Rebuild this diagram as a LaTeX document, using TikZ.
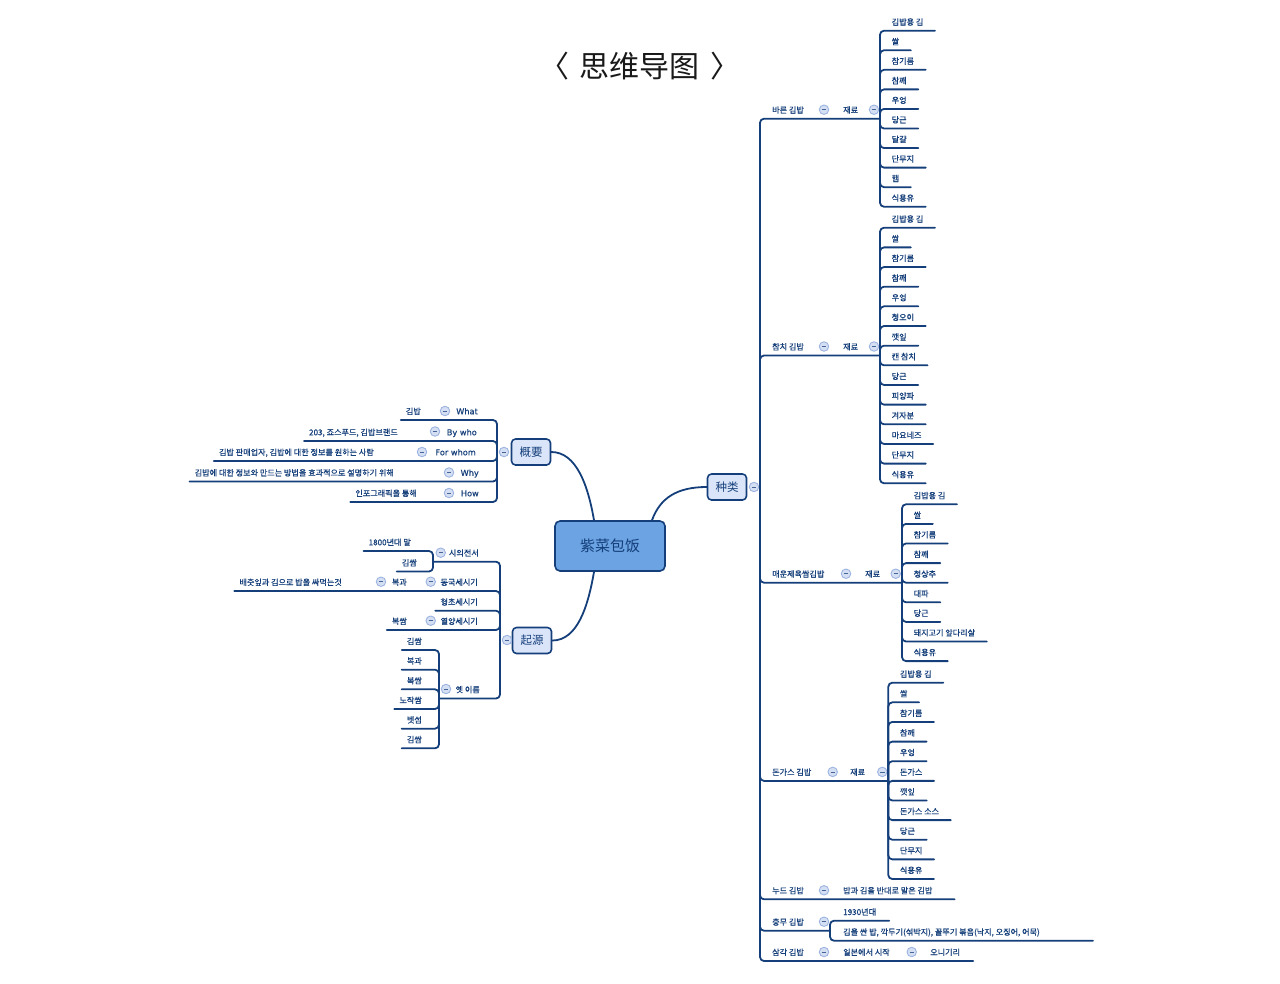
\documentclass[tikz,border=0pt]{standalone}
\usepackage{fontspec}
\newfontfamily\kr{Noto Sans CJK KR}[RawFeature={embolden=0.8}]
\newfontfamily\zh{Noto Sans CJK SC}
\newfontfamily\lat{DejaVu Sans}[RawFeature={embolden=0.6}]
\definecolor{navy}{HTML}{153F7A}
\definecolor{mainblue}{HTML}{6BA3E3}
\definecolor{subblue}{HTML}{DAE5FA}
\definecolor{togfill}{HTML}{D5DFF3}
\definecolor{togring}{HTML}{9DB4E0}
\tikzset{
  ln/.style={draw=navy, line width=1.8pt, rounded corners=4pt, line cap=round},
  lf/.style={font=\kr\fontsize{8.1}{9}\selectfont, text=navy, inner xsep=11.5pt, inner ysep=2pt, text height=7pt, text depth=3.5pt, anchor=south west},
  lfr/.style={lf, inner xsep=5pt},
  lfl/.style={lf, inner xsep=5pt, anchor=south east},
  en/.style={lfl, font=\lat\fontsize{8.2}{9}\selectfont},
  tog/.style={circle, draw=togring, fill=togfill, line width=0.9pt, minimum size=9.5pt, inner sep=0pt,
    path picture={\draw[navy!80, line width=0.7pt] ([xshift=-2.2pt]path picture bounding box.center) -- ([xshift=2.2pt]path picture bounding box.center);}},
  rootbox/.style={draw=navy, fill=mainblue, line width=1.6pt, rounded corners=5pt, minimum width=110pt, minimum height=50pt, font=\zh\fontsize{15}{18}\selectfont, text=navy},
  subbox/.style={draw=navy, fill=subblue, line width=1.6pt, rounded corners=4pt, minimum width=39pt, minimum height=26pt, inner sep=2pt, font=\zh\fontsize{11.5}{14}\selectfont, text=navy}
}
\begin{document}
\begin{tikzpicture}[x=1pt,y=-1pt,line join=round]
\useasboundingbox (0,0) rectangle (1280,983);
\node[font=\zh\fontsize{30}{34}\selectfont, text=black!90] (title) at (640,66) {〈\hspace{4pt} 思维导图 \hspace{4pt}〉};
% center and main branches
\node[rootbox] (root) at (610,546) {紫菜包饭};
\node[subbox] (gaiyao) at (531,452) {概要};
\node[subbox] (qiyuan) at (532,640.5) {起源};
\node[subbox] (zhonglei) at (727,487) {种类};
\draw[ln] (gaiyao.east) .. controls +(25,0) and +(-6,-35) .. ([xshift=-16pt]root.north);
\draw[ln] ([xshift=-16pt]root.south) .. controls +(-6,35) and +(25,0) .. (qiyuan.east);
\draw[ln] ([xshift=42pt]root.north) .. controls +(8,-22) and +(-30,0) .. (zhonglei.west);
\node[tog] (gt0) at (504,452) {}; \node[tog] (qt0) at (507,640) {}; \node[tog] (zt0) at (754,487) {};

% 概要
\coordinate (g0) at (497,461);
\node[en] (g1) at (483,420) {What}; \node[tog] (gt1) at (445,411) {}; \node[lfl] (ga1) at (426,420) {김밥};
\node[en] (g2) at (482,441) {By who}; \node[tog] (gt2) at (435,431.5) {}; \node[lfl] (ga2) at (403,441) {203, 죠스푸드, 김밥브랜드};
\node[en] (g3) at (481,461) {For whom}; \node[tog] (gt3) at (422,452) {}; \node[lfl] (ga3) at (379,461) {김밥 판매업자, 김밥에 대한 정보를 원하는 사람};
\node[en] (g4) at (484,481.5) {Why}; \node[tog] (gt4) at (449,472.5) {}; \node[lfl] (ga4) at (399,481.5) {김밥에 대한 정보와 만드는 방법을 효과적으로 설명하기 위해};
\node[en] (g5) at (484,502) {How}; \node[tog] (gt5) at (449,493) {}; \node[lfl] (ga5) at (422,502) {인포그래픽을 통해};
\foreach \i in {1,...,5} \draw[ln] (g0) |- (ga\i.south west);

% 起源
\coordinate (q0) at (500,630);
\node[lfl] (q1) at (484,561.7) {시의전서}; \node[tog] (qt1) at (440.7,552.7) {}; \coordinate (q1j) at (433,561.7);
\node[lfl] (qa1) at (416,551) {1800년대 말}; \node[lfl] (qb1) at (422,571.5) {김쌈};
\node[lfl] (q2) at (483,591) {동국세시기}; \node[tog] (qt2) at (430.7,581.7) {};
\node[lfl] (qa2) at (412,591) {복과}; \node[tog] (qt2b) at (381,581.7) {}; \node[lfl] (qb2) at (347,591) {배춧잎과 김으로 밥을 싸먹는것};
\node[lfl] (q3) at (483,610.7) {형초세시기};
\node[lfl] (q4) at (483,630) {열양세시기}; \node[tog] (qt4) at (430.7,620.7) {}; \node[lfl] (qa4) at (412,630) {복쌈};
\node[lfl] (q5) at (485,698.3) {옛 이름}; \node[tog] (qt5) at (446,689) {}; \coordinate (q5j) at (439,698.5);
\foreach \t [count=\i] in {김쌈,복과,복쌈,노작쌈,벳섬,김쌈}
  \node[lfl] (qc\i) at (427,{650+19.66*(\i-1)}) {\t};
\draw[ln] (q0) |- (q1j); \draw[ln] (q1j) |- (qa1.south west); \draw[ln] (q1j) |- (qb1.south west);
\draw[ln] (q0) |- (qb2.south west); \draw[ln] (q0) |- (q3.south west); \draw[ln] (q0) |- (qa4.south west);
\draw[ln] (q0) |- (q5j);
\foreach \i in {1,...,6} \draw[ln] (q5j) |- (qc\i.south west);

% 种类
\coordinate (z0) at (760,487);
\node[lf, inner xsep=12pt] (zt1) at (760,118.7) {바른 김밥}; \node[lfr] (zr1) at (838,118.7) {재료};
\node[tog] (zc1a) at (824,109.7) {}; \node[tog] (zc1b) at (874,109.7) {}; \coordinate (zj1) at (880,118.7);
\node[lf, inner xsep=12pt] (zt2) at (760,355.5) {참치 김밥}; \node[lfr] (zr2) at (838,355.5) {재료};
\node[tog] (zc2a) at (824,346.5) {}; \node[tog] (zc2b) at (874,346.5) {}; \coordinate (zj2) at (880,355.5);
\node[lf, inner xsep=12pt] (zt3) at (760,582.7) {매운제육쌈김밥}; \node[lfr] (zr3) at (860,582.7) {재료};
\node[tog] (zc3a) at (846,573.7) {}; \node[tog] (zc3b) at (895.7,573.7) {}; \coordinate (zj3) at (902,582.7);
\node[lf, inner xsep=12pt] (zt4) at (760,780.9) {돈가스 김밥}; \node[lfr] (zr4) at (845,780.9) {재료};
\node[tog] (zc4a) at (832.7,771.9) {}; \node[tog] (zc4b) at (882.3,771.9) {}; \coordinate (zj4) at (888.3,780.9);
\foreach \i in {1,...,4} \draw[ln] (z0) |- (zj\i);

\foreach \t [count=\i] in {김밥용 김,쌀,참기름,참깨,우엉,당근,달걀,단무지,햄,식용유}
  \node[lf] (za\i) at (880,{30.7+19.56*(\i-1)}) {\t};
\foreach \i in {1,...,10} \draw[ln] (zj1) |- (za\i.south east);
\foreach \t [count=\i] in {김밥용 김,쌀,참기름,참깨,우엉,청오이,깻잎,캔 참치,당근,피양파,겨자분,마요네즈,단무지,식용유}
  \node[lf] (zb\i) at (880,{227.7+19.66*(\i-1)}) {\t};
\foreach \i in {1,...,14} \draw[ln] (zj2) |- (zb\i.south east);
\foreach \t [count=\i] in {김밥용 김,쌀,참기름,참깨,청상추,대파,당근,돼지고기 앞다리살,식용유}
  \node[lf] (zm\i) at (902,{504.3+19.6*(\i-1)}) {\t};
\foreach \i in {1,...,9} \draw[ln] (zj3) |- (zm\i.south east);
\foreach \t [count=\i] in {김밥용 김,쌀,참기름,참깨,우엉,돈가스,깻잎,돈가스 소스,당근,단무지,식용유}
  \node[lf] (zd\i) at (888.3,{682.7+19.63*(\i-1)}) {\t};
\foreach \i in {1,...,11} \draw[ln] (zj4) |- (zd\i.south east);

\node[lf, inner xsep=12pt] (zt5) at (760,899.3) {누드 김밥}; \node[tog] (zc5) at (824,890.3) {};
\node[lfr] (zn1) at (838,899.3) {밥과 김을 반대로 말은 김밥};
\draw[ln] (z0) |- ([xshift=17pt]zn1.south east);
\node[lf, inner xsep=12pt] (zt6) at (760,930.7) {충무 김밥}; \node[tog] (zc6) at (824,921.7) {}; \coordinate (zj6) at (830,930.7);
\node[lfr] (zu1) at (838,920.7) {1930년대}; \node[lfr] (zu2) at (838,940.7) {김을 싼 밥, 깍두기(섞박지), 꼴뚜기 볶음(낙지, 오징어, 어묵)};
\draw[ln] (z0) |- (zj6); \draw[ln] (zj6) |- ([xshift=8pt]zu1.south east); \draw[ln] (zj6) |- ([xshift=48pt]zu2.south east);
\node[lf, inner xsep=12pt] (zt7) at (760,961) {삼각 김밥}; \node[tog] (zc7a) at (824,952) {};
\node[lfr] (zs1) at (838,961) {일본에서 시작}; \node[tog] (zc7b) at (911.7,952) {}; \node[lfr] (zs2) at (925,961) {오니기리};
\draw[ln] (z0) |- ([xshift=8pt]zs2.south east);
\end{tikzpicture}
\end{document}
